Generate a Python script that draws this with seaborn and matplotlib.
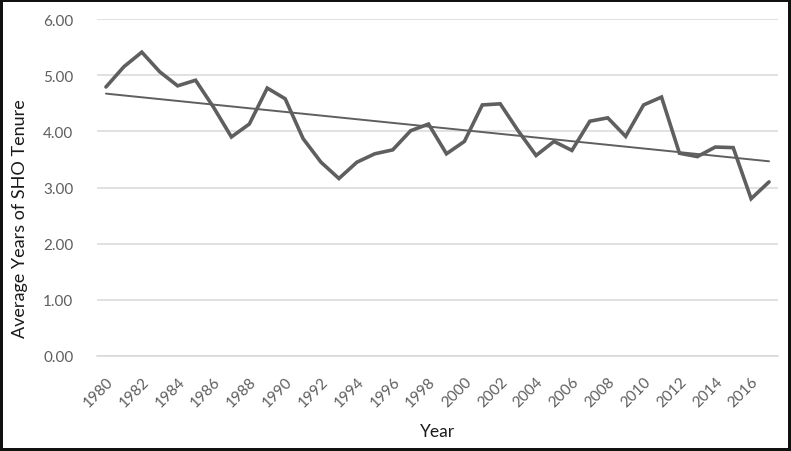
import numpy as np
import matplotlib
matplotlib.use('Agg')
import matplotlib.pyplot as plt
import pandas as pd
import seaborn as sns

# average years of SHO tenure
years = list(range(1980, 2018))
tenure = [4.79, 5.15, 5.41, 5.06, 4.81, 4.91, 4.43, 3.90, 4.13, 4.77,
          4.58, 3.87, 3.45, 3.16, 3.45, 3.60, 3.67, 4.01, 4.13, 3.60,
          3.82, 4.47, 4.49, 4.01, 3.57, 3.82, 3.66, 4.18, 4.24, 3.91,
          4.47, 4.61, 3.61, 3.55, 3.72, 3.71, 2.80, 3.10]
yticks = [0, 1, 2, 3, 4, 5, 6]
xtick_years = years[::2]

df = pd.DataFrame({'Year': years, 'Tenure': tenure})

sns.set_theme(style='white')
plt.rcParams['font.family'] = ['Lato', 'DejaVu Sans']

line_col = '#5f5f5f'
tick_col = '#5e5e5e'

fig = plt.figure(figsize=(7.91, 4.52), dpi=100)
ax = fig.add_axes([97 / 791, 1 - 357 / 452, 681 / 791, 337 / 452])

sns.lineplot(data=df, x='Year', y='Tenure', ax=ax, color=line_col,
             linewidth=2.6, solid_joinstyle='miter')
sns.regplot(data=df, x='Year', y='Tenure', ax=ax, scatter=False, ci=None,
            truncate=True, line_kws=dict(color=line_col, linewidth=1.4))

ax.set_xlim(years[0] - 0.5, years[-1] + 0.5)
ax.set_ylim(0, 6)
ax.set_yticks(yticks)
ax.set_yticklabels(['{:.2f}'.format(v) for v in yticks],
                   fontsize=11, color=tick_col)
ax.set_xticks(xtick_years)
ax.set_xticklabels([str(y) for y in xtick_years], rotation=45, ha='right',
                   rotation_mode='anchor', fontsize=11, color=tick_col)
ax.tick_params(axis='y', length=0, pad=17)
ax.tick_params(axis='x', length=0, pad=13)

ax.grid(axis='y', color='#d9d9d9', linewidth=1.1)
ax.set_axisbelow(True)
for s in ['top', 'right', 'left']:
    ax.spines[s].set_visible(False)
ax.spines['bottom'].set_color('#d9d9d9')
ax.spines['bottom'].set_linewidth(1.1)

ax.set_xlabel('Year', fontsize=12.5, color='#1a1a1a')
ax.set_ylabel('Average Years of SHO Tenure', fontsize=13, color='#1a1a1a')
ax.xaxis.set_label_coords(0.5, -0.2)
ax.yaxis.set_label_coords(-0.102, 0.41)

# dark frame around the whole picture
fig.patch.set_edgecolor('#111111')
fig.patch.set_linewidth(3)

fig.savefig('out.png', dpi=100, edgecolor=fig.get_edgecolor())
